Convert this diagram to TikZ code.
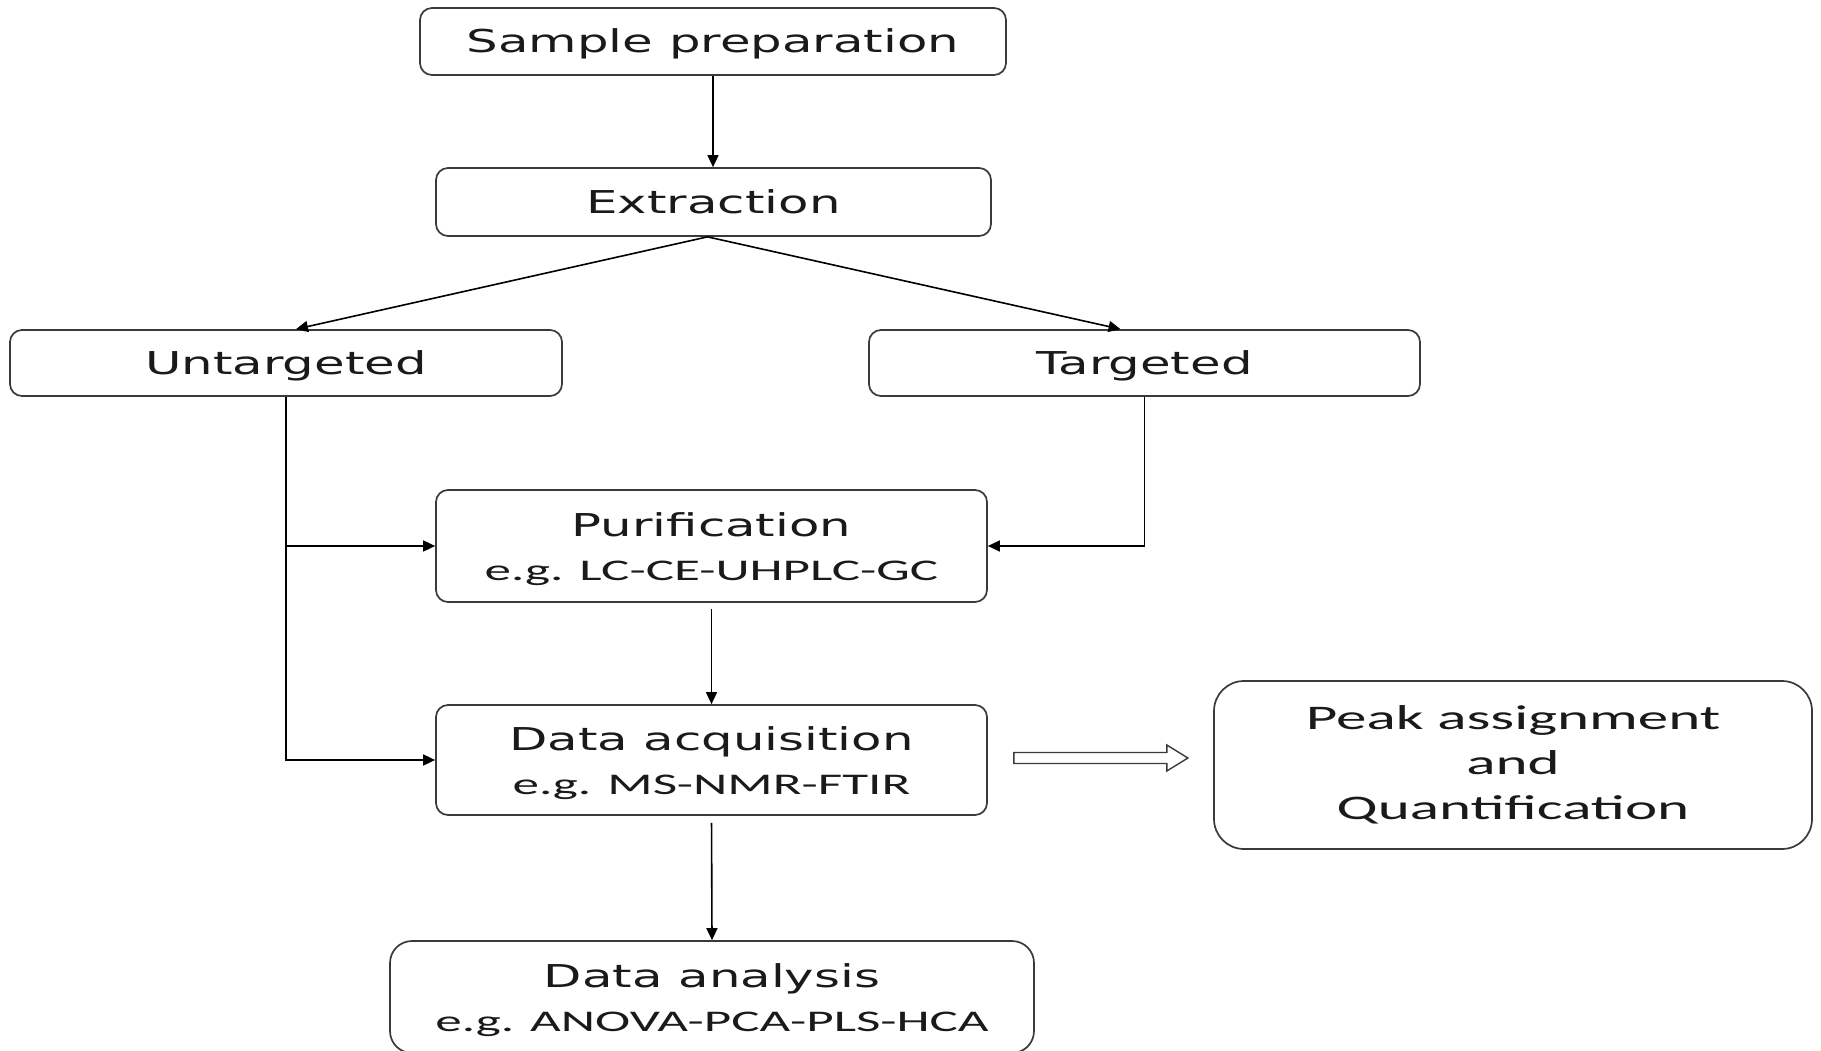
\documentclass[tikz,border=0pt]{standalone}
\usepackage{fontspec}
\setmainfont{DejaVu Sans}[FakeStretch=1.58]
\newfontfamily\egfont{Carlito}[FakeStretch=1.77]
\usetikzlibrary{arrows.meta,calc}
\definecolor{boxgray}{HTML}{3A3A3A}
\definecolor{txt}{HTML}{1A1A1A}
\newcommand\titlef{\fontsize{31.5}{44}\selectfont}
\newcommand\egf{\egfont\fontsize{30}{44}\selectfont}
\newcommand\pkf{\egfont\fontsize{34.5}{45}\selectfont}
\newcommand\tstrut{\rule{0pt}{31pt}}
\tikzset{
  box/.style={draw=boxgray, line width=1.7pt, rounded corners=12pt, align=center,
              inner sep=0pt, text=txt, font=\titlef},
  capfix/.style={text height=23pt, text depth=0pt},
  arr/.style={-{Triangle[length=12pt,width=11pt]}, line width=1.6pt, draw=black},
  hollow/.style={draw=boxgray, line width=1.4pt, fill=white, line join=miter}
}
\begin{document}
\begin{tikzpicture}[x=1pt,y=-1pt]
\useasboundingbox (0,0) rectangle (1821,1051);
\clip (0,0) rectangle (1821,1051);
\fill[white] (0,0) rectangle (1821,1051);

\node[box, capfix, minimum width=586pt, minimum height=67pt] (sp) at (713,41.5) {Sample preparation};
\node[box, capfix, minimum width=555pt, minimum height=68pt] (ex) at (713.5,202) {Extraction};
\node[box, capfix, minimum width=552pt, minimum height=66pt] (un) at (286,363) {Untargeted};
\node[box, capfix, minimum width=551pt, minimum height=66pt] (ta) at (1144.5,363) {Targeted};
\node[box, minimum width=551pt, minimum height=112pt] (pu) at (711.5,546)
  {\tstrut Purification\\[0pt]\egf e.g. LC-CE-UHPLC-GC};
\node[box, minimum width=551pt, minimum height=110pt] (da) at (711.5,760)
  {\tstrut Data acquisition\\[0pt]\egf e.g. MS-NMR-FTIR};
\node[box, rounded corners=30pt, minimum width=598pt, minimum height=168pt, font=\pkf] (pk) at (1513,765)
  {Peak assignment\\and\\Quantification};
\node[box, rounded corners=22pt, minimum width=644pt, minimum height=112pt] (an) at (712,997)
  {\tstrut Data analysis\\[0pt]\egf e.g. ANOVA-PCA-PLS-HCA};

\draw[arr] (sp.south) -- (sp.south |- ex.north);
\draw[arr] ([xshift=-6pt]ex.south) -- ([xshift=10pt]un.north);
\draw[arr] ([xshift=-6pt]ex.south) -- ([xshift=-24pt]ta.north);
\draw[arr] (un.south) |- (da.west);
\draw[arr] (un.south |- pu.west) -- (pu.west);
\draw[arr] (ta.south) |- (pu.east);
\draw[arr, shorten <=6pt] (pu.south) -- (da.north);
\draw[arr, shorten <=7pt] (da.south) -- (an.north);

\coordinate (hs) at ($(da.east)+(26,-2)$);
\draw[hollow] ($(hs)+(0,-5.5)$) -- ++(153,0) -- ++(0,-7.5) -- ++(21,13)
  -- ++(-21,13) -- ++(0,-7.5) -- ++(-153,0) -- cycle;
\end{tikzpicture}
\end{document}
